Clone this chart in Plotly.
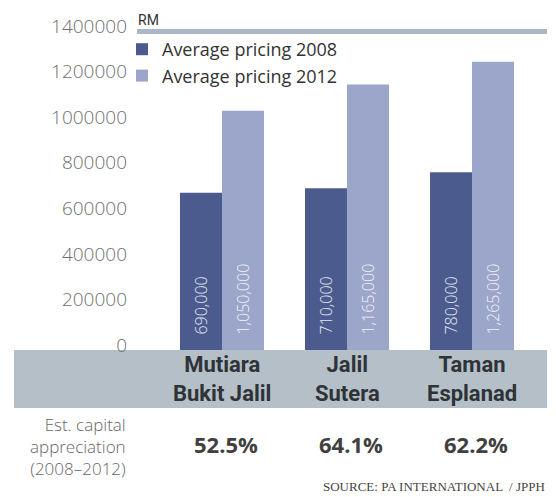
import plotly.graph_objects as go

categories = ["Mutiara Bukit Jalil", "Jalil Sutera", "Taman Esplanad"]
label_lines = ["Mutiara<br>Bukit Jalil", "Jalil<br>Sutera", "Taman<br>Esplanad"]
price_2008 = [690000, 710000, 780000]
price_2012 = [1050000, 1165000, 1265000]
appreciation = ["52.5%", "64.1%", "62.2%"]
y_ticks = [0, 200000, 400000, 600000, 800000, 1000000, 1200000, 1400000]
caption_text = "Est. capital<br>appreciation<br>(2008\u20132012)"

W, H = 556, 497
L, R, T, B = 137, 9, 31, 147
PW, PH = W - L - R, H - T - B

def py(px):
    return (H - B - px) / PH

def px_x(px):
    return (px - L) / PW

dark = "#4b5b8e"
light = "#9ca5ca"

fig = go.Figure()
pad = "\u00a0\u00a0\u00a0"
fig.add_trace(go.Bar(
    x=categories, y=price_2008, name="Average pricing 2008",
    marker=dict(color=dark, line=dict(width=0)),
    text=[pad + f"{v:,}" for v in price_2008], textposition="inside",
    insidetextanchor="start", textangle=-90,
    textfont=dict(family="Open Sans", size=16, color="#e6e9f2", weight=300),
))
fig.add_trace(go.Bar(
    x=categories, y=price_2012, name="Average pricing 2012",
    marker=dict(color=light, line=dict(width=0)),
    text=[pad + f"{v:,}" for v in price_2012], textposition="inside",
    insidetextanchor="start", textangle=-90,
    textfont=dict(family="Open Sans", size=16, color="#f2f3f8", weight=300),
))

shapes = [
    dict(type="rect", xref="paper", yref="paper", x0=px_x(14), x1=1, y0=py(408), y1=0,
         fillcolor="#b4bfc7", line=dict(width=0), layer="below"),
    dict(type="rect", xref="paper", yref="paper", x0=0, x1=1, y0=py(34), y1=py(29),
         fillcolor="#aab7c7", line=dict(width=0), layer="below"),
]

ann = []
ann.append(dict(text="RM", xref="paper", yref="paper", x=px_x(136), y=py(20), xanchor="left",
                yanchor="middle", showarrow=False,
                font=dict(family="Roboto", size=14, color="#333333")))
for c, lab, pct in zip(categories, label_lines, appreciation):
    ann.append(dict(text=lab, x=c, xref="x", yref="paper", y=py(378.5), showarrow=False,
                    xanchor="center", yanchor="middle",
                    font=dict(family="Roboto", size=22, color="#2f3337", weight="bold")))
    ann.append(dict(text=pct, x=c, xref="x", yref="paper", y=py(444), showarrow=False,
                    xanchor="center", yanchor="middle", xshift=4,
                    font=dict(family="Open Sans", size=22, color="#404040", weight="bold")))
ann.append(dict(text=caption_text, xref="paper", yref="paper", x=px_x(128), y=py(446),
                xanchor="right", yanchor="middle", align="right", showarrow=False,
                font=dict(family="Open Sans", size=17, color="#666666", weight=300)))
ann.append(dict(text="SOURCE: PA INTERNATIONAL  / JPPH", xref="paper", yref="paper",
                x=1, y=py(487), xanchor="right", yanchor="middle", showarrow=False,
                font=dict(family="Liberation Serif", size=13, color="#444444")))

fig.update_layout(
    width=W, height=H,
    margin=dict(l=L, r=R, t=T, b=B, pad=0),
    paper_bgcolor="white", plot_bgcolor="white",
    barmode="group", bargap=0.328, bargroupgap=0,
    uniformtext=dict(mode=False),
    showlegend=True,
    legend=dict(x=px_x(122), y=py(31), xanchor="left", yanchor="top",
                bgcolor="rgba(0,0,0,0)", tracegroupgap=0,
                font=dict(family="Open Sans", size=18, color="#333333")),
    xaxis=dict(range=[-(222 - L) / 125, (W - R - 222) / 125], showticklabels=False,
               showgrid=False, zeroline=False, showline=False, ticks=""),
    yaxis=dict(range=[0, 1400000], tickvals=y_ticks, ticktext=[str(v) for v in y_ticks],
               showgrid=False, zeroline=False, showline=False, ticks="",
               ticklabelstandoff=9, ticklabelshift=-5,
               tickfont=dict(family="Open Sans", size=19, color="#707070", weight=300)),
    shapes=shapes, annotations=ann,
)

fig.write_html("out.html")
